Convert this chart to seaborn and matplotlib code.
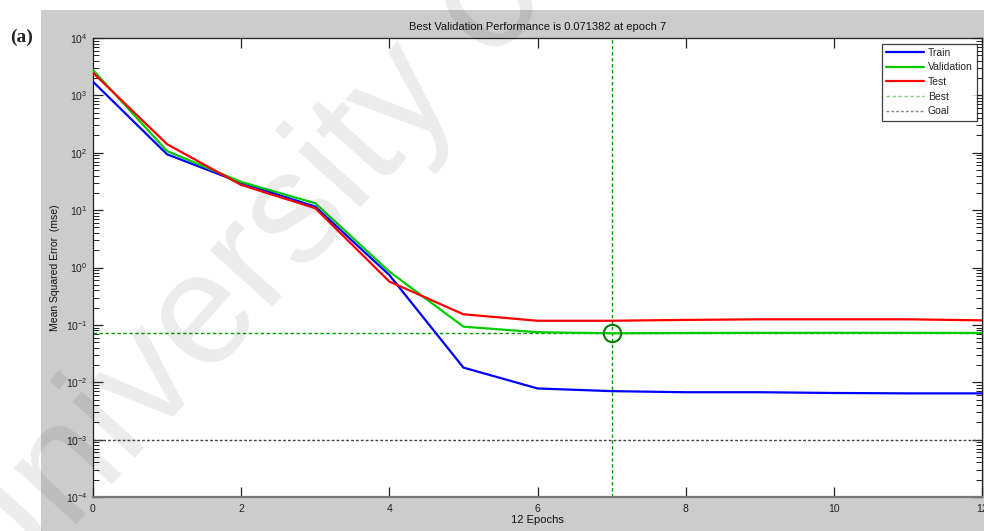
import numpy as np
import pandas as pd
import matplotlib
matplotlib.use("Agg")
import matplotlib.pyplot as plt
import seaborn as sns
from matplotlib.patches import Rectangle
from matplotlib.ticker import LogLocator, FixedLocator, NullFormatter

# ---- data ----
epochs = list(range(13))
train = [1730, 94, 30, 11.5, 0.74, 0.018, 0.0078, 0.0070, 0.0067, 0.0067, 0.0065, 0.0064, 0.0064]
validation = [2760, 107, 31, 13.2, 0.85, 0.093, 0.0745, 0.071382, 0.0722, 0.0725, 0.0728, 0.0725, 0.0723]
test = [2480, 141, 27.5, 10.8, 0.57, 0.153, 0.118, 0.118, 0.122, 0.125, 0.125, 0.125, 0.120]
series_names = ["Train", "Validation", "Test"]
best_epoch = 7
best_perf = 0.071382
goal = 1e-3
x_ticks = [0, 2, 4, 6, 8, 10, 12]
title_text = "Best Validation Performance is 0.071382 at epoch 7"
xlabel_text = "12 Epochs"
ylabel_text = "Mean Squared Error  (mse)"
panel_label = "(a)"
watermark = "University of Malaya"

df = pd.DataFrame({
    "epoch": epochs * 3,
    "mse": train + validation + test,
    "series": [series_names[0]] * 13 + [series_names[1]] * 13 + [series_names[2]] * 13,
})

sns.set_style("ticks")
plt.rcParams["font.family"] = ["Liberation Sans", "DejaVu Sans"]
plt.rcParams["mathtext.fontset"] = "custom"
plt.rcParams["mathtext.rm"] = "Liberation Sans"
plt.rcParams["mathtext.it"] = "Liberation Sans:italic"
plt.rcParams["mathtext.bf"] = "Liberation Sans:bold"

W, H = 984, 531
fig = plt.figure(figsize=(W / 100, H / 100), dpi=100)
fig.patch.set_facecolor("white")
fig.add_artist(Rectangle((41 / W, 0), 1 - 41 / W, (H - 10) / H, transform=fig.transFigure,
                         facecolor="#cccccc", edgecolor="none", zorder=0))

ax = fig.add_axes([93 / W, (H - 497) / H, (982 - 93) / W, (497 - 38) / H])
ax.set_facecolor("white")

palette = {"Train": "#0000ff", "Validation": "#00cc00", "Test": "#ff0000"}
sns.lineplot(data=df, x="epoch", y="mse", hue="series", palette=palette,
             hue_order=series_names, ax=ax, linewidth=1.6, legend=False, zorder=3)
ax.set_yscale("log")

best_line = ax.axhline(best_perf, color="#00a000", lw=1.0, ls=(0, (2.5, 1.8)), zorder=2)
ax.axvline(best_epoch, color="#00a000", lw=1.0, ls=(0, (2.5, 1.8)), zorder=2)
goal_line = ax.axhline(goal, color="#444444", lw=1.0, ls=(0, (2, 1.5)), zorder=2)
ax.plot([best_epoch], [best_perf], "o", mfc="none", mec="#007a00", ms=12.5, mew=1.5, zorder=4)

ax.set_xlim(0, 12)
ax.set_ylim(1e-4, 1e4)
ax.xaxis.set_major_locator(FixedLocator(x_ticks))
ax.yaxis.set_major_locator(LogLocator(base=10, numticks=20))
ax.yaxis.set_minor_locator(LogLocator(base=10, subs=np.arange(2, 10), numticks=20))
ax.yaxis.set_minor_formatter(NullFormatter())

ax.tick_params(which="both", direction="in", top=True, right=True, colors="#222222",
               labelcolor="#222222")
ax.tick_params(which="major", length=7, width=0.9, labelsize=7.5)
ax.tick_params(which="minor", length=4.5, width=0.7)
ax.tick_params(axis="y", pad=4)
ax.tick_params(axis="x", pad=5)
for s in ax.spines.values():
    s.set_color("#222222")
    s.set_linewidth(0.9)
ax.spines["bottom"].set_color("#777777")
ax.spines["bottom"].set_linewidth(1.6)

ax.set_title(title_text, fontsize=8, color="#111111", pad=5.5)
ax.set_xlabel(xlabel_text, fontsize=8, color="#111111", labelpad=1)
ax.set_ylabel(ylabel_text, fontsize=7.5, color="#111111", labelpad=4)

lines = ax.get_lines()[:3]
handles = list(lines) + [best_line, goal_line]
labels = series_names + ["Best", "Goal"]
leg = ax.legend(handles, labels, loc="upper right", bbox_to_anchor=(0.9965, 0.9925),
                fontsize=7.5, frameon=True, fancybox=False, handlelength=3.6,
                handletextpad=0.4, borderpad=0.4, labelspacing=0.45, borderaxespad=0.2)
leg.get_frame().set_edgecolor("#111111")
leg.get_frame().set_linewidth(0.9)
leg.legend_handles[3].set_color("#7fcf7f")
leg.legend_handles[4].set_color("#888888")

fig.text(10 / W, 1 - 37 / H, panel_label, fontsize=14, fontweight="bold",
         family=["Liberation Serif", "DejaVu Serif"], va="center", ha="left")

fig.text(-8 / W, 1 - 618 / H, watermark, rotation=48, rotation_mode="anchor",
         ha="left", va="baseline", fontsize=115, color="black", alpha=0.08, zorder=100)

fig.savefig("out.png", dpi=100)
